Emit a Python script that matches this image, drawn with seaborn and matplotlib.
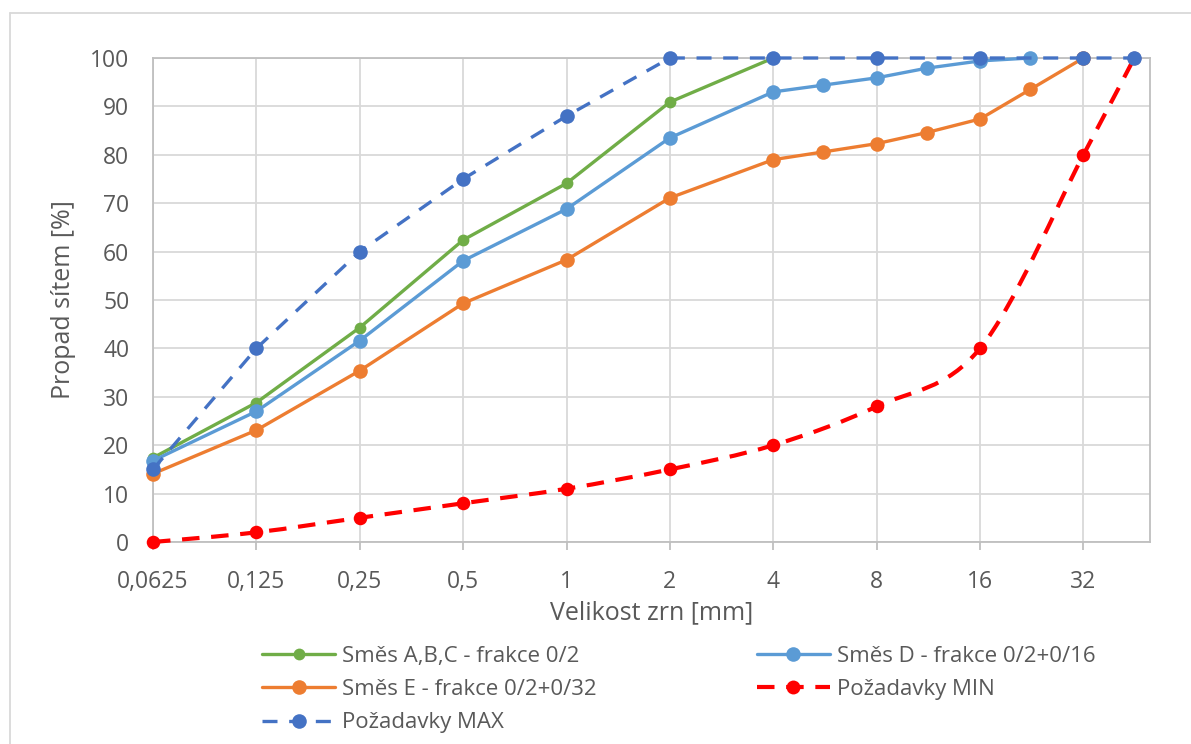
import numpy as np
import matplotlib
matplotlib.use("Agg")
import matplotlib.pyplot as plt
import seaborn as sns
from matplotlib.path import Path
from matplotlib.patches import PathPatch
from matplotlib.lines import Line2D
from matplotlib.ticker import FixedLocator, NullLocator

# velikost zrn [mm] a propad [%]
sizes_abc = [0.0625, 0.125, 0.25, 0.5, 1, 2, 4]
mix_abc = [17.4, 28.8, 44.3, 62.4, 74.1, 90.9, 100]

sizes_de = [0.0625, 0.125, 0.25, 0.5, 1, 2, 4, 5.6, 8, 11.2, 16, 22.4, 32]
mix_d = [16.8, 27.0, 41.6, 58.1, 68.8, 83.5, 93.0, 94.4, 95.9, 97.9, 99.4, 100, None]
mix_e = [14.1, 23.1, 35.4, 49.3, 58.3, 71.1, 79.0, 80.6, 82.3, 84.6, 87.4, 93.5, 100]

sizes_req = [0.0625, 0.125, 0.25, 0.5, 1, 2, 4, 8, 16, 32, 45]
req_min = [0, 2, 5, 8, 11, 15, 20, 28, 40, 80, 100]
req_max = [15, 40, 60, 75, 88, 100, 100, 100, 100, 100, 100]

tick_vals = [0.0625, 0.125, 0.25, 0.5, 1, 2, 4, 8, 16, 32]
tick_labels = ["0,0625", "0,125", "0,25", "0,5", "1", "2", "4", "8", "16", "32"]

names = ["Směs A,B,C - frakce 0/2", "Směs D - frakce 0/2+0/16",
         "Směs E - frakce 0/2+0/32", "Požadavky MIN", "Požadavky MAX"]

c_green, c_lblue, c_orange, c_red, c_blue = "#70AD47", "#5B9BD5", "#ED7D31", "#FF0000", "#4472C4"
txt = "#595959"

sns.set_style("white")
plt.rcParams["font.family"] = ["Open Sans", "DejaVu Sans"]

fig = plt.figure(figsize=(11.91, 7.44), dpi=100)
ax = fig.add_axes([153 / 1191, 1 - 542 / 744, (1150 - 153) / 1191, (542 - 58) / 744])

ax.set_xscale("log", base=2)
ax.set_xlim(0.0625, 50)
ax.set_ylim(0, 100)

# smesi
d_x = [s for s, v in zip(sizes_de, mix_d) if v is not None]
d_y = [v for v in mix_d if v is not None]
sns.lineplot(x=sizes_abc, y=mix_abc, color=c_green, lw=2.4, marker="o", markersize=8.5,
             markeredgewidth=0, clip_on=False, ax=ax, legend=False, zorder=3)
sns.lineplot(x=d_x, y=d_y, color=c_lblue, lw=2.4, marker="o", markersize=10.5,
             markeredgewidth=0, clip_on=False, ax=ax, legend=False, zorder=4)
sns.lineplot(x=sizes_de, y=mix_e, color=c_orange, lw=2.4, marker="o", markersize=10.5,
             markeredgewidth=0, clip_on=False, ax=ax, legend=False, zorder=5)

# MIN - vyhlazena cara (bezier jako v Excelu)
pts = np.column_stack([np.log2(sizes_req), req_min]).astype(float)
n = len(pts)
verts = [pts[0]]
codes = [Path.MOVETO]
for i in range(n - 1):
    p0, p1, p2, p3 = pts[max(i - 1, 0)], pts[i], pts[i + 1], pts[min(i + 2, n - 1)]
    verts += [p1 + (p2 - p0) / 6, p2 - (p3 - p1) / 6, p2]
    codes += [Path.CURVE4] * 3
verts = np.array(verts)
verts[:, 0] = 2 ** verts[:, 0]
ax.add_patch(PathPatch(Path(verts, codes), fill=False, edgecolor=c_red, lw=3,
                       linestyle=(0, (4.2, 2.8)), zorder=6, clip_on=False))
sns.scatterplot(x=sizes_req, y=req_min, color=c_red, s=95, linewidth=0,
                clip_on=False, ax=ax, legend=False, zorder=6)

# MAX
sns.lineplot(x=sizes_req, y=req_max, color=c_blue, lw=2.4, marker="o", markersize=10.5,
             markeredgewidth=0, linestyle=(0, (4.5, 3.5)), clip_on=False, ax=ax,
             legend=False, zorder=7)

ax.xaxis.set_major_locator(FixedLocator(tick_vals))
ax.xaxis.set_minor_locator(NullLocator())
ax.set_xticklabels(tick_labels)
ax.set_yticks(range(0, 101, 10))
ax.grid(True, color="#D9D9D9", lw=1.3)
ax.set_axisbelow(True)
for sp in ax.spines.values():
    sp.set_color("#BFBFBF")
    sp.set_linewidth(1.3)
    sp.set_visible(True)
ax.tick_params(axis="x", length=6, width=1.3, color="#BFBFBF", labelsize=16.5,
               labelcolor=txt, pad=14, bottom=True)
ax.tick_params(axis="y", length=0, labelsize=16.5, labelcolor=txt, pad=17)

ax.set_xlabel("Velikost zrn [mm]", fontsize=18, color=txt, labelpad=5)
ax.set_ylabel("Propad sítem [%]", fontsize=18, color=txt, labelpad=10)

handles = [
    Line2D([], [], color=c_green, lw=2.4, marker="o", markersize=8.5, markeredgewidth=0),
    Line2D([], [], color=c_orange, lw=2.4, marker="o", markersize=10.5, markeredgewidth=0),
    Line2D([], [], color=c_blue, lw=2.4, marker="o", markersize=10.5, markeredgewidth=0,
           linestyle=(0, (4.5, 3.5))),
    Line2D([], [], color=c_lblue, lw=2.4, marker="o", markersize=10.5, markeredgewidth=0),
    Line2D([], [], color=c_red, lw=3, marker="o", markersize=10, markeredgewidth=0,
           linestyle=(0, (4.2, 2.8))),
]
labels = [names[0], names[2], names[4], names[1], names[3]]
leg = fig.legend(handles, labels, loc="upper left", bbox_to_anchor=(262 / 1191, 1 - 646 / 744),
                 ncol=2, frameon=False, fontsize=16, handlelength=3.3, handletextpad=0.3,
                 columnspacing=7.2, labelspacing=0.55, borderaxespad=0, borderpad=0)
for t in leg.get_texts():
    t.set_color(txt)

# ramecek grafu
fig.add_artist(Line2D([10 / 1191, 10 / 1191], [0, 1 - 13 / 744], color="#D9D9D9", lw=1.3,
                      transform=fig.transFigure))
fig.add_artist(Line2D([10 / 1191, 1], [1 - 13 / 744, 1 - 13 / 744], color="#D9D9D9", lw=1.3,
                      transform=fig.transFigure))

fig.savefig("out.png", dpi=100)
